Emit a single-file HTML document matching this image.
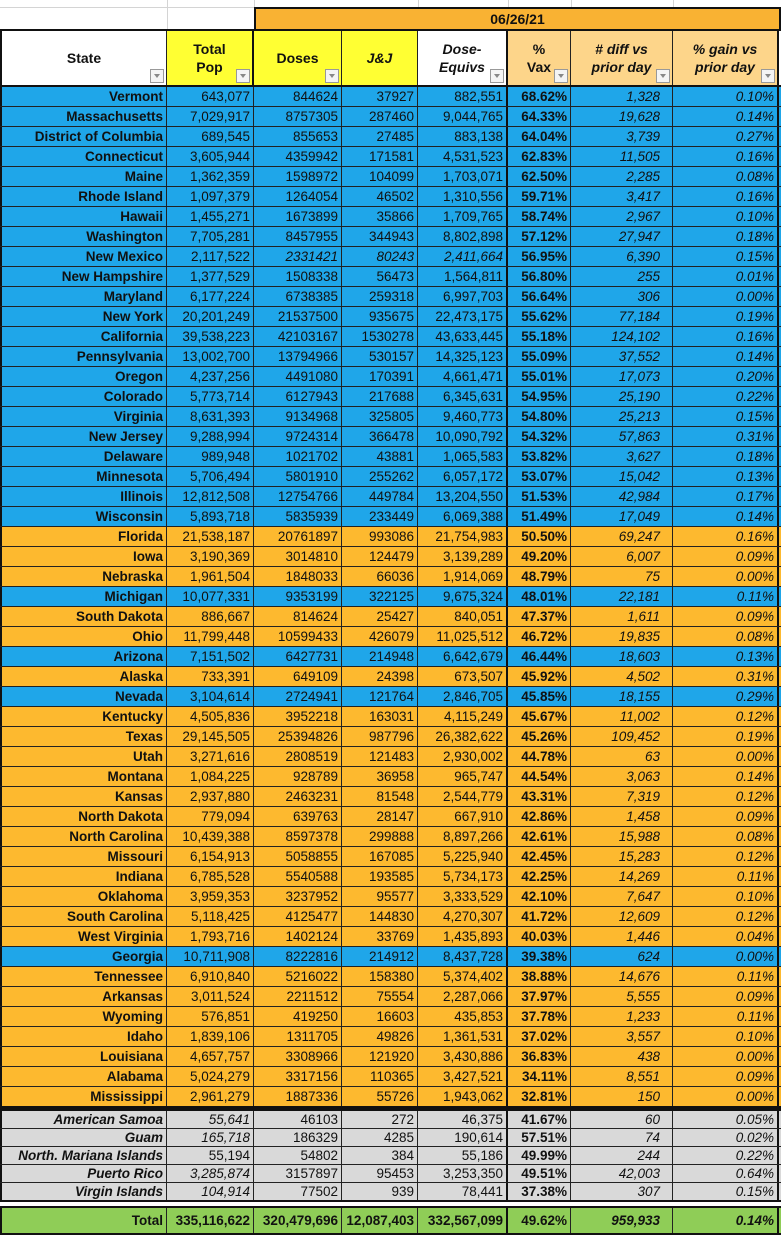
<!DOCTYPE html>
<html><head><meta charset="utf-8"><style>
body{margin:0;width:781px;height:1236px;background:#fff;position:relative;overflow:hidden;font-family:"Liberation Sans",Arial,sans-serif;font-size:13.5px;color:#111}
.gl{position:absolute;background:#d4d4d4}
.row{position:absolute;left:0;width:781px;height:20px;display:flex;box-sizing:border-box;border-bottom:1px solid #222}
.row>div{box-sizing:border-box;border-right:1px solid #222;text-align:right;padding-right:3px;line-height:19px;white-space:nowrap;overflow:hidden}
.row>div:first-child{font-weight:bold;border-left:2px solid #111}
.row>div:nth-child(5){border-right:2px solid #111}
.row>div:nth-child(6){font-weight:bold}
.row>div:nth-child(7),.row>div:nth-child(8){font-style:italic}
.row>div:last-child{border-right:2px solid #111}
.c1{width:167px}.c2{width:87px}.c3{width:88px}.c4{width:76px}.c5{width:90px}.c6{width:63px}.c7{width:102px}.c8{width:106px}
.B{background:#1fa6e9}.O{background:#fdb92f}
.B>div:nth-child(7){padding-right:12px}
.row>div:nth-child(7){padding-right:12px}
.i{font-style:italic}
.t{height:18px;background:#d9d9d9}
.t>div{line-height:17px}
.t>div:first-child{font-style:italic}
.hdr{position:absolute;top:29px;left:0;width:781px;height:58px;display:flex;border-top:2px solid #111;border-bottom:2px solid #111;box-sizing:border-box}
.hdr>div{position:relative;box-sizing:border-box;border-right:1px solid #222;display:flex;align-items:center;justify-content:center;text-align:center;font-weight:bold;font-size:14px;line-height:18px}
.dd{position:absolute;right:2px;bottom:2px;width:14px;height:14px;border:1px solid #999;background:#f4f4f4;box-sizing:border-box}
.dd:after{content:"";position:absolute;left:3px;top:4px;border-left:3px solid transparent;border-right:3px solid transparent;border-top:4px solid #888}
</style></head><body>
<div class="gl" style="left:0;top:7px;width:254px;height:1px"></div>
<div class="gl" style="left:167px;top:0;width:1px;height:29px"></div>
<div class="gl" style="left:254px;top:0;width:1px;height:7px"></div>
<div class="gl" style="left:418px;top:0;width:1px;height:7px"></div>
<div class="gl" style="left:508px;top:0;width:1px;height:7px"></div>
<div class="gl" style="left:571px;top:0;width:1px;height:7px"></div>
<div class="gl" style="left:673px;top:0;width:1px;height:7px"></div>
<div style="position:absolute;left:254px;top:7px;width:527px;height:24px;background:#f9b233;border:2px solid #111;box-sizing:border-box;text-align:center;font-weight:bold;font-size:14px;line-height:20px">06/26/21</div>
<div class="hdr">
<div class="c1" style="background:#fff;border-left:2px solid #111">State<span class="dd"></span></div>
<div class="c2" style="background:#ffff33;border-right:2px solid #111">Total<br>Pop<span class="dd"></span></div>
<div class="c3" style="background:#ffff33">Doses<span class="dd"></span></div>
<div class="c4" style="background:#ffff33;font-style:italic">J&amp;J</div>
<div class="c5" style="background:#fff;font-style:italic;border-right:2px solid #111">Dose-<br>Equivs<span class="dd"></span></div>
<div class="c6" style="background:#fdd58a">%<br>Vax<span class="dd"></span></div>
<div class="c7" style="background:#fdd58a;font-style:italic"># diff vs<br>prior day<span class="dd"></span></div>
<div class="c8" style="background:#fdd58a;font-style:italic;border-right:2px solid #111">% gain vs<br>prior day<span class="dd"></span></div>
</div>
<div style="position:absolute;left:0;top:87px">
<div class="row B" style="top:0px"><div class="c1">Vermont</div><div class="c2">643,077</div><div class="c3">844624</div><div class="c4">37927</div><div class="c5">882,551</div><div class="c6">68.62%</div><div class="c7">1,328</div><div class="c8">0.10%</div></div>
<div class="row B" style="top:20px"><div class="c1">Massachusetts</div><div class="c2">7,029,917</div><div class="c3">8757305</div><div class="c4">287460</div><div class="c5">9,044,765</div><div class="c6">64.33%</div><div class="c7">19,628</div><div class="c8">0.14%</div></div>
<div class="row B" style="top:40px"><div class="c1">District of Columbia</div><div class="c2">689,545</div><div class="c3">855653</div><div class="c4">27485</div><div class="c5">883,138</div><div class="c6">64.04%</div><div class="c7">3,739</div><div class="c8">0.27%</div></div>
<div class="row B" style="top:60px"><div class="c1">Connecticut</div><div class="c2">3,605,944</div><div class="c3">4359942</div><div class="c4">171581</div><div class="c5">4,531,523</div><div class="c6">62.83%</div><div class="c7">11,505</div><div class="c8">0.16%</div></div>
<div class="row B" style="top:80px"><div class="c1">Maine</div><div class="c2">1,362,359</div><div class="c3">1598972</div><div class="c4">104099</div><div class="c5">1,703,071</div><div class="c6">62.50%</div><div class="c7">2,285</div><div class="c8">0.08%</div></div>
<div class="row B" style="top:100px"><div class="c1">Rhode Island</div><div class="c2">1,097,379</div><div class="c3">1264054</div><div class="c4">46502</div><div class="c5">1,310,556</div><div class="c6">59.71%</div><div class="c7">3,417</div><div class="c8">0.16%</div></div>
<div class="row B" style="top:120px"><div class="c1">Hawaii</div><div class="c2">1,455,271</div><div class="c3">1673899</div><div class="c4">35866</div><div class="c5">1,709,765</div><div class="c6">58.74%</div><div class="c7">2,967</div><div class="c8">0.10%</div></div>
<div class="row B" style="top:140px"><div class="c1">Washington</div><div class="c2">7,705,281</div><div class="c3">8457955</div><div class="c4">344943</div><div class="c5">8,802,898</div><div class="c6">57.12%</div><div class="c7">27,947</div><div class="c8">0.18%</div></div>
<div class="row B" style="top:160px"><div class="c1">New Mexico</div><div class="c2">2,117,522</div><div class="c3 i">2331421</div><div class="c4 i">80243</div><div class="c5 i">2,411,664</div><div class="c6">56.95%</div><div class="c7">6,390</div><div class="c8">0.15%</div></div>
<div class="row B" style="top:180px"><div class="c1">New Hampshire</div><div class="c2">1,377,529</div><div class="c3">1508338</div><div class="c4">56473</div><div class="c5">1,564,811</div><div class="c6">56.80%</div><div class="c7">255</div><div class="c8">0.01%</div></div>
<div class="row B" style="top:200px"><div class="c1">Maryland</div><div class="c2">6,177,224</div><div class="c3">6738385</div><div class="c4">259318</div><div class="c5">6,997,703</div><div class="c6">56.64%</div><div class="c7">306</div><div class="c8">0.00%</div></div>
<div class="row B" style="top:220px"><div class="c1">New York</div><div class="c2">20,201,249</div><div class="c3">21537500</div><div class="c4">935675</div><div class="c5">22,473,175</div><div class="c6">55.62%</div><div class="c7">77,184</div><div class="c8">0.19%</div></div>
<div class="row B" style="top:240px"><div class="c1">California</div><div class="c2">39,538,223</div><div class="c3">42103167</div><div class="c4">1530278</div><div class="c5">43,633,445</div><div class="c6">55.18%</div><div class="c7">124,102</div><div class="c8">0.16%</div></div>
<div class="row B" style="top:260px"><div class="c1">Pennsylvania</div><div class="c2">13,002,700</div><div class="c3">13794966</div><div class="c4">530157</div><div class="c5">14,325,123</div><div class="c6">55.09%</div><div class="c7">37,552</div><div class="c8">0.14%</div></div>
<div class="row B" style="top:280px"><div class="c1">Oregon</div><div class="c2">4,237,256</div><div class="c3">4491080</div><div class="c4">170391</div><div class="c5">4,661,471</div><div class="c6">55.01%</div><div class="c7">17,073</div><div class="c8">0.20%</div></div>
<div class="row B" style="top:300px"><div class="c1">Colorado</div><div class="c2">5,773,714</div><div class="c3">6127943</div><div class="c4">217688</div><div class="c5">6,345,631</div><div class="c6">54.95%</div><div class="c7">25,190</div><div class="c8">0.22%</div></div>
<div class="row B" style="top:320px"><div class="c1">Virginia</div><div class="c2">8,631,393</div><div class="c3">9134968</div><div class="c4">325805</div><div class="c5">9,460,773</div><div class="c6">54.80%</div><div class="c7">25,213</div><div class="c8">0.15%</div></div>
<div class="row B" style="top:340px"><div class="c1">New Jersey</div><div class="c2">9,288,994</div><div class="c3">9724314</div><div class="c4">366478</div><div class="c5">10,090,792</div><div class="c6">54.32%</div><div class="c7">57,863</div><div class="c8">0.31%</div></div>
<div class="row B" style="top:360px"><div class="c1">Delaware</div><div class="c2">989,948</div><div class="c3">1021702</div><div class="c4">43881</div><div class="c5">1,065,583</div><div class="c6">53.82%</div><div class="c7">3,627</div><div class="c8">0.18%</div></div>
<div class="row B" style="top:380px"><div class="c1">Minnesota</div><div class="c2">5,706,494</div><div class="c3">5801910</div><div class="c4">255262</div><div class="c5">6,057,172</div><div class="c6">53.07%</div><div class="c7">15,042</div><div class="c8">0.13%</div></div>
<div class="row B" style="top:400px"><div class="c1">Illinois</div><div class="c2">12,812,508</div><div class="c3">12754766</div><div class="c4">449784</div><div class="c5">13,204,550</div><div class="c6">51.53%</div><div class="c7">42,984</div><div class="c8">0.17%</div></div>
<div class="row B" style="top:420px"><div class="c1">Wisconsin</div><div class="c2">5,893,718</div><div class="c3">5835939</div><div class="c4">233449</div><div class="c5">6,069,388</div><div class="c6">51.49%</div><div class="c7">17,049</div><div class="c8">0.14%</div></div>
<div class="row O" style="top:440px"><div class="c1">Florida</div><div class="c2">21,538,187</div><div class="c3">20761897</div><div class="c4">993086</div><div class="c5">21,754,983</div><div class="c6">50.50%</div><div class="c7">69,247</div><div class="c8">0.16%</div></div>
<div class="row O" style="top:460px"><div class="c1">Iowa</div><div class="c2">3,190,369</div><div class="c3">3014810</div><div class="c4">124479</div><div class="c5">3,139,289</div><div class="c6">49.20%</div><div class="c7">6,007</div><div class="c8">0.09%</div></div>
<div class="row O" style="top:480px"><div class="c1">Nebraska</div><div class="c2">1,961,504</div><div class="c3">1848033</div><div class="c4">66036</div><div class="c5">1,914,069</div><div class="c6">48.79%</div><div class="c7">75</div><div class="c8">0.00%</div></div>
<div class="row B" style="top:500px"><div class="c1">Michigan</div><div class="c2">10,077,331</div><div class="c3">9353199</div><div class="c4">322125</div><div class="c5">9,675,324</div><div class="c6">48.01%</div><div class="c7">22,181</div><div class="c8">0.11%</div></div>
<div class="row O" style="top:520px"><div class="c1">South Dakota</div><div class="c2">886,667</div><div class="c3">814624</div><div class="c4">25427</div><div class="c5">840,051</div><div class="c6">47.37%</div><div class="c7">1,611</div><div class="c8">0.09%</div></div>
<div class="row O" style="top:540px"><div class="c1">Ohio</div><div class="c2">11,799,448</div><div class="c3">10599433</div><div class="c4">426079</div><div class="c5">11,025,512</div><div class="c6">46.72%</div><div class="c7">19,835</div><div class="c8">0.08%</div></div>
<div class="row B" style="top:560px"><div class="c1">Arizona</div><div class="c2">7,151,502</div><div class="c3">6427731</div><div class="c4">214948</div><div class="c5">6,642,679</div><div class="c6">46.44%</div><div class="c7">18,603</div><div class="c8">0.13%</div></div>
<div class="row O" style="top:580px"><div class="c1">Alaska</div><div class="c2">733,391</div><div class="c3">649109</div><div class="c4">24398</div><div class="c5">673,507</div><div class="c6">45.92%</div><div class="c7">4,502</div><div class="c8">0.31%</div></div>
<div class="row B" style="top:600px"><div class="c1">Nevada</div><div class="c2">3,104,614</div><div class="c3">2724941</div><div class="c4">121764</div><div class="c5">2,846,705</div><div class="c6">45.85%</div><div class="c7">18,155</div><div class="c8">0.29%</div></div>
<div class="row O" style="top:620px"><div class="c1">Kentucky</div><div class="c2">4,505,836</div><div class="c3">3952218</div><div class="c4">163031</div><div class="c5">4,115,249</div><div class="c6">45.67%</div><div class="c7">11,002</div><div class="c8">0.12%</div></div>
<div class="row O" style="top:640px"><div class="c1">Texas</div><div class="c2">29,145,505</div><div class="c3">25394826</div><div class="c4">987796</div><div class="c5">26,382,622</div><div class="c6">45.26%</div><div class="c7">109,452</div><div class="c8">0.19%</div></div>
<div class="row O" style="top:660px"><div class="c1">Utah</div><div class="c2">3,271,616</div><div class="c3">2808519</div><div class="c4">121483</div><div class="c5">2,930,002</div><div class="c6">44.78%</div><div class="c7">63</div><div class="c8">0.00%</div></div>
<div class="row O" style="top:680px"><div class="c1">Montana</div><div class="c2">1,084,225</div><div class="c3">928789</div><div class="c4">36958</div><div class="c5">965,747</div><div class="c6">44.54%</div><div class="c7">3,063</div><div class="c8">0.14%</div></div>
<div class="row O" style="top:700px"><div class="c1">Kansas</div><div class="c2">2,937,880</div><div class="c3">2463231</div><div class="c4">81548</div><div class="c5">2,544,779</div><div class="c6">43.31%</div><div class="c7">7,319</div><div class="c8">0.12%</div></div>
<div class="row O" style="top:720px"><div class="c1">North Dakota</div><div class="c2">779,094</div><div class="c3">639763</div><div class="c4">28147</div><div class="c5">667,910</div><div class="c6">42.86%</div><div class="c7">1,458</div><div class="c8">0.09%</div></div>
<div class="row O" style="top:740px"><div class="c1">North Carolina</div><div class="c2">10,439,388</div><div class="c3">8597378</div><div class="c4">299888</div><div class="c5">8,897,266</div><div class="c6">42.61%</div><div class="c7">15,988</div><div class="c8">0.08%</div></div>
<div class="row O" style="top:760px"><div class="c1">Missouri</div><div class="c2">6,154,913</div><div class="c3">5058855</div><div class="c4">167085</div><div class="c5">5,225,940</div><div class="c6">42.45%</div><div class="c7">15,283</div><div class="c8">0.12%</div></div>
<div class="row O" style="top:780px"><div class="c1">Indiana</div><div class="c2">6,785,528</div><div class="c3">5540588</div><div class="c4">193585</div><div class="c5">5,734,173</div><div class="c6">42.25%</div><div class="c7">14,269</div><div class="c8">0.11%</div></div>
<div class="row O" style="top:800px"><div class="c1">Oklahoma</div><div class="c2">3,959,353</div><div class="c3">3237952</div><div class="c4">95577</div><div class="c5">3,333,529</div><div class="c6">42.10%</div><div class="c7">7,647</div><div class="c8">0.10%</div></div>
<div class="row O" style="top:820px"><div class="c1">South Carolina</div><div class="c2">5,118,425</div><div class="c3">4125477</div><div class="c4">144830</div><div class="c5">4,270,307</div><div class="c6">41.72%</div><div class="c7">12,609</div><div class="c8">0.12%</div></div>
<div class="row O" style="top:840px"><div class="c1">West Virginia</div><div class="c2">1,793,716</div><div class="c3">1402124</div><div class="c4">33769</div><div class="c5">1,435,893</div><div class="c6">40.03%</div><div class="c7">1,446</div><div class="c8">0.04%</div></div>
<div class="row B" style="top:860px"><div class="c1">Georgia</div><div class="c2">10,711,908</div><div class="c3">8222816</div><div class="c4">214912</div><div class="c5">8,437,728</div><div class="c6">39.38%</div><div class="c7">624</div><div class="c8">0.00%</div></div>
<div class="row O" style="top:880px"><div class="c1">Tennessee</div><div class="c2">6,910,840</div><div class="c3">5216022</div><div class="c4">158380</div><div class="c5">5,374,402</div><div class="c6">38.88%</div><div class="c7">14,676</div><div class="c8">0.11%</div></div>
<div class="row O" style="top:900px"><div class="c1">Arkansas</div><div class="c2">3,011,524</div><div class="c3">2211512</div><div class="c4">75554</div><div class="c5">2,287,066</div><div class="c6">37.97%</div><div class="c7">5,555</div><div class="c8">0.09%</div></div>
<div class="row O" style="top:920px"><div class="c1">Wyoming</div><div class="c2">576,851</div><div class="c3">419250</div><div class="c4">16603</div><div class="c5">435,853</div><div class="c6">37.78%</div><div class="c7">1,233</div><div class="c8">0.11%</div></div>
<div class="row O" style="top:940px"><div class="c1">Idaho</div><div class="c2">1,839,106</div><div class="c3">1311705</div><div class="c4">49826</div><div class="c5">1,361,531</div><div class="c6">37.02%</div><div class="c7">3,557</div><div class="c8">0.10%</div></div>
<div class="row O" style="top:960px"><div class="c1">Louisiana</div><div class="c2">4,657,757</div><div class="c3">3308966</div><div class="c4">121920</div><div class="c5">3,430,886</div><div class="c6">36.83%</div><div class="c7">438</div><div class="c8">0.00%</div></div>
<div class="row O" style="top:980px"><div class="c1">Alabama</div><div class="c2">5,024,279</div><div class="c3">3317156</div><div class="c4">110365</div><div class="c5">3,427,521</div><div class="c6">34.11%</div><div class="c7">8,551</div><div class="c8">0.09%</div></div>
<div class="row O" style="top:1000px;border-bottom:2px solid #111;height:21px"><div class="c1">Mississippi</div><div class="c2">2,961,279</div><div class="c3">1887336</div><div class="c4">55726</div><div class="c5">1,943,062</div><div class="c6">32.81%</div><div class="c7">150</div><div class="c8">0.00%</div></div>
</div>
<div style="position:absolute;left:0;top:1108px;width:781px;height:3px;background:#111"></div>
<div style="position:absolute;left:0;top:1111px">
<div class="row t" style="top:0px"><div class="c1">American Samoa</div><div class="c2 i">55,641</div><div class="c3">46103</div><div class="c4">272</div><div class="c5">46,375</div><div class="c6">41.67%</div><div class="c7">60</div><div class="c8">0.05%</div></div>
<div class="row t" style="top:18px"><div class="c1">Guam</div><div class="c2 i">165,718</div><div class="c3">186329</div><div class="c4">4285</div><div class="c5">190,614</div><div class="c6">57.51%</div><div class="c7">74</div><div class="c8">0.02%</div></div>
<div class="row t" style="top:36px"><div class="c1">North. Mariana Islands</div><div class="c2">55,194</div><div class="c3">54802</div><div class="c4">384</div><div class="c5">55,186</div><div class="c6">49.99%</div><div class="c7">244</div><div class="c8">0.22%</div></div>
<div class="row t" style="top:54px"><div class="c1">Puerto Rico</div><div class="c2 i">3,285,874</div><div class="c3">3157897</div><div class="c4">95453</div><div class="c5">3,253,350</div><div class="c6">49.51%</div><div class="c7">42,003</div><div class="c8">0.64%</div></div>
<div class="row t" style="top:72px;border-bottom:2px solid #111;height:19px"><div class="c1">Virgin Islands</div><div class="c2 i">104,914</div><div class="c3">77502</div><div class="c4">939</div><div class="c5">78,441</div><div class="c6">37.38%</div><div class="c7">307</div><div class="c8">0.15%</div></div>
</div>
<div class="row" style="top:1206px;height:29px;background:#8fcd57;border-top:2px solid #111;border-bottom:2px solid #111;font-weight:bold">
<div class="c1" style="line-height:25px">Total</div><div class="c2" style="line-height:25px">335,116,622</div><div class="c3" style="line-height:25px">320,479,696</div><div class="c4" style="line-height:25px">12,087,403</div><div class="c5" style="line-height:25px">332,567,099</div><div class="c6" style="line-height:25px;font-weight:bold">49.62%</div><div class="c7" style="line-height:25px;font-weight:bold">959,933</div><div class="c8" style="line-height:25px;font-weight:bold">0.14%</div></div>
</body></html>
